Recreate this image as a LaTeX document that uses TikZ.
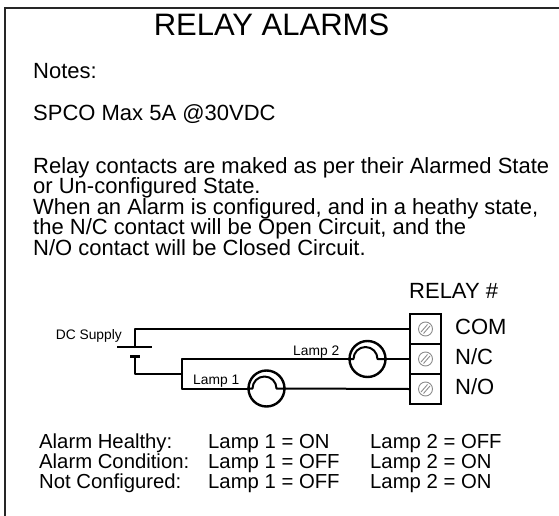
\documentclass[tikz,border=0pt]{standalone}
\usepackage{fontspec}
\setmainfont{Liberation Sans}
\usetikzlibrary{calc}
\begin{document}
\begin{tikzpicture}[x=1pt,y=-1pt,
  txt/.style={anchor=base west,inner sep=0pt,font=\fontsize{22}{25}\selectfont},
  tbl/.style={anchor=base west,inner sep=0pt,font=\fontsize{20.3}{23}\selectfont},
  small/.style={anchor=base west,inner sep=0pt,font=\fontsize{13.8}{16}\selectfont},
  wire/.style={line width=2pt,line cap=round,line join=round},
  lamp/.style={circle,draw,line width=2.4pt,minimum size=36pt,inner sep=0pt},
  term/.style={rectangle,draw,line width=2.4pt,minimum width=31pt,minimum height=30pt,inner sep=0pt},
  screw/.style={draw=black!45,line width=0.9pt}]
\useasboundingbox (0,0) rectangle (559,516);
% frame
\draw[line width=2.2pt,black!85] (5,516) -- (5,8) -- (559,8);
% title
\node[anchor=base,inner sep=0pt,font=\fontsize{31}{35}\selectfont] (title) at (271.5,35.5) {RELAY ALARMS};
% notes
\node[txt] (notes) at (33,78.5) {Notes:};
\node[txt] (spco) at (33,121) {SPCO Max 5A @30VDC};
\node[txt] (p1) at (33,173) {Relay contacts are maked as per their Alarmed State};
\node[txt] (p2) at (33,193.5) {or Un-configured State.};
\node[txt] (p3) at (33,214) {When an Alarm is configured, and in a heathy state,};
\node[txt] (p4) at (33,234.5) {the N/C contact will be Open Circuit, and the};
\node[txt] (p5) at (33,255) {N/O contact will be Closed Circuit.};
% relay
\node[txt] (relay) at (409,298) {RELAY \#};
\node[term] (T1) at (425.5,329) {};
\node[term] (T2) at (425.5,359) {};
\node[term] (T3) at (425.5,389) {};
\foreach \t in {T1,T2,T3}{
  \draw[screw] (\t.center) circle (7pt);
  \draw[screw] ($(\t.center)+(-4.5,3)$) -- ($(\t.center)+(2,-4.5)$);
  \draw[screw] ($(\t.center)+(-2,4.5)$) -- ($(\t.center)+(4.5,-3)$);
}
\node[txt] (com) at (455,334.5) {COM};
\node[txt] (nc) at (455,364.5) {N/C};
\node[txt] (no) at (455,394) {N/O};
% battery
\coordinate (btop) at (135,347);
\coordinate (bbot) at (135,356);
\draw[line width=2pt] (117,347) -- (152,347);
\draw[line width=3pt] (130,356) -- (140,356);
\node[small,anchor=base east] (dc) at (122,339) {DC Supply};
% lamps
\node[lamp] (L2) at (367.5,359) {};
\node[lamp] (L1) at (266.5,388.5) {};
\foreach \l in {L1,L2}{
  \draw[wire] (\l.west) -- ($(\l.center)+(-14,0)$) arc[start angle=-180,end angle=0,radius=12] -- (\l.east);
}
\node[small] (lab2) at (293,355) {Lamp 2};
\node[small] (lab1) at (193,384.5) {Lamp 1};
% wires
\coordinate (j1) at (182,359);
\coordinate (j2) at (182,388.5);
\draw[wire] (btop) -- (135,329) -- (T1.west);
\draw[wire] (bbot) -- (135,374) -- (182,374);
\draw[wire] (j1) -- (j2);
\draw[wire] (j1) -- (L2.west);
\draw[wire] (L2.east) -- (T2.west);
\draw[wire] (j2) -- (L1.west);
\draw[wire] (L1.east) -- (T3.west);
% table
\node[tbl] (r1a) at (39,448.5) {Alarm Healthy:};
\node[tbl] (r1b) at (208,448.5) {Lamp 1 = ON};
\node[tbl] (r1c) at (370,448.5) {Lamp 2 = OFF};
\node[tbl] (r2a) at (39,468.5) {Alarm Condition:};
\node[tbl] (r2b) at (208,468.5) {Lamp 1 = OFF};
\node[tbl] (r2c) at (370,468.5) {Lamp 2 = ON};
\node[tbl] (r3a) at (39,488.5) {Not Configured:};
\node[tbl] (r3b) at (208,488.5) {Lamp 1 = OFF};
\node[tbl] (r3c) at (370,488.5) {Lamp 2 = ON};
\end{tikzpicture}
\end{document}
